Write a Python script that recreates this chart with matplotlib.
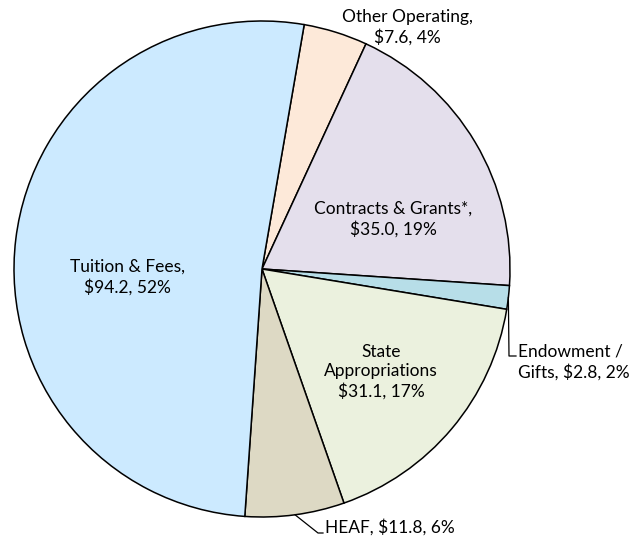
import matplotlib.pyplot as plt
import numpy as np

plt.rcParams['font.family'] = ['Lato', 'DejaVu Sans']

# fontes de receita (milhoes de dolares), em sentido horario a partir do topo
labels = ['Other Operating', 'Contracts & Grants*', 'Endowment / Gifts',
          'State Appropriations', 'HEAF', 'Tuition & Fees']
values = [7.6, 35.0, 2.8, 31.1, 11.8, 94.2]
pcts = ['4%', '19%', '2%', '17%', '6%', '52%']
colors = ['#fde9d9', '#e4dfec', '#b7dee8', '#ebf1de', '#ddd9c4', '#cceaff']

W, H = 632, 536
fig = plt.figure(figsize=(W / 100, H / 100), dpi=100)
ax = fig.add_axes([0, 0, 1, 1])

cx, cy, r = 262, H - 269, 248
wedges, _ = ax.pie(values, colors=colors, startangle=80.2, counterclock=False,
                   center=(cx, cy), radius=r, frame=True,
                   wedgeprops=dict(edgecolor='black', linewidth=1.1))
ax.set_xlim(0, W)
ax.set_ylim(0, H)
ax.set_aspect('equal')
ax.axis('off')

fs = 12.5
ls = 1.25
def y(py):
    return H - py

# rotulos dentro das fatias
ax.text(127, y(277), 'Tuition & Fees,\n$94.2, 52%', ha='center', va='center',
        fontsize=fs, linespacing=ls)
ax.text(393, y(219), 'Contracts & Grants*,\n$35.0, 19%', ha='center', va='center',
        fontsize=fs, linespacing=ls)
ax.text(381, y(372), 'State\nAppropriations\n$31.1, 17%', ha='center', va='center',
        fontsize=fs, linespacing=ls)
ax.text(407, y(27), 'Other Operating,\n$7.6, 4%', ha='center', va='center',
        fontsize=fs, linespacing=ls)

# linhas de chamada
def edge_point(w):
    a = np.deg2rad((w.theta1 + w.theta2) / 2)
    return cx + r * np.cos(a), cy + r * np.sin(a)

ex, ey = edge_point(wedges[2])
ax.plot([ex, 509, 516], [ey, y(356), y(356)], color='black', lw=0.9)
ax.text(518, y(362), 'Endowment /\nGifts, $2.8, 2%', ha='left', va='center',
        fontsize=fs, linespacing=ls)

hx, hy = edge_point(wedges[4])
ax.plot([hx, 318, 323], [hy, y(533), y(533)], color='black', lw=0.9)
ax.text(325, y(527), 'HEAF, $11.8, 6%', ha='left', va='center', fontsize=fs)

fig.savefig('out.png', dpi=100)
